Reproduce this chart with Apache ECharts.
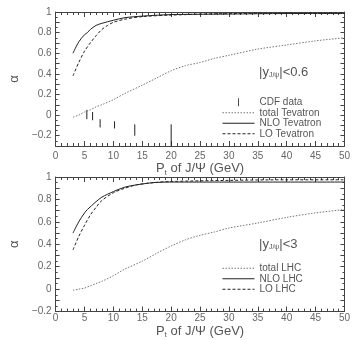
<!DOCTYPE html>
<html><head><meta charset="utf-8">
<script src="https://cdn.jsdelivr.net/npm/echarts@6/dist/echarts.min.js"></script>
<style>html,body{margin:0;padding:0;background:#fff}#c{width:353px;height:340px}</style>
</head><body><div id="c"></div>
<script>
// Top panel (Tevatron, |y|<0.6)
const topTotalX = [3,4,5,6,7,8,10,12,15,17.5,20,22.5,25,27.5,30,35,40,45,50];
const topTotalY = [-0.02,0.0,0.03,0.05,0.08,0.1,0.15,0.21,0.29,0.36,0.43,0.48,0.51,0.55,0.58,0.64,0.68,0.72,0.75];
const topNloX = [3,4,5,5.5,6,7,8,10,12,15,20,30,40,50];
const topNloY = [0.6,0.71,0.78,0.8,0.83,0.87,0.89,0.92,0.945,0.96,0.975,0.98,0.985,0.985];
const topLoX = [3,4,5,6,7,8,9,10,12,15,20,30,50];
const topLoY = [0.38,0.51,0.62,0.7,0.77,0.83,0.87,0.9,0.93,0.955,0.97,0.985,0.99];
const cdfX = [5.4,6.4,7.7,10.2,13.7,20];
const cdfLow = [-0.04,-0.05,-0.12,-0.13,-0.2,-0.3];
const cdfHigh = [0.05,0.03,-0.04,-0.06,-0.09,-0.09];
// Bottom panel (LHC, |y|<3)
const botTotalX = [3,4,5,6,7,8,10,12,15,17.5,20,22.5,25,27.5,30,35,40,45,50];
const botTotalY = [-0.01,0,0.01,0.03,0.05,0.07,0.12,0.18,0.25,0.32,0.385,0.44,0.48,0.51,0.545,0.59,0.64,0.68,0.71];
const botNloX = [3,4,5,5.5,7,8,10,12,14,17,20,30,40,50];
const botNloY = [0.5,0.6,0.68,0.71,0.78,0.82,0.87,0.91,0.93,0.95,0.955,0.955,0.955,0.955];
const botLoX = [3,4,5,6,7,8,10,12,14,17,20,30,40,50];
const botLoY = [0.35,0.47,0.57,0.66,0.73,0.79,0.86,0.9,0.93,0.95,0.96,0.97,0.975,0.975];
const xTicks = [0,5,10,15,20,25,30,35,40,45,50];

const zip = (xs, ys) => xs.map((x, i) => [x, ys[i]]);
const FONT = 'Liberation Sans';
const AX = '#444';
const LAB = '#666';

function xAxis(grid, pos, show, gap, margin) {
  return {
    type: 'value', gridIndex: grid, position: pos, min: 0, max: 50, interval: 5,
    axisLine: { show: true, onZero: false, lineStyle: { color: AX, width: 1 } },
    axisTick: { show: true, inside: true, length: 5, lineStyle: { color: AX } },
    minorTick: { show: true, splitNumber: 5, length: 3, lineStyle: { color: AX } },
    splitLine: { show: false },
    axisLabel: { show: show, color: LAB, fontSize: 10, fontFamily: FONT, margin: margin,
      formatter: v => xTicks.indexOf(v) >= 0 ? String(v) : '' },
    name: show ? 'P{s|t} of J/\u03A8 (GeV)' : '',
    nameLocation: 'middle', nameGap: gap,
    nameTextStyle: { color: '#555', fontSize: 13, fontFamily: FONT,
      rich: { s: { fontSize: 8, verticalAlign: 'bottom', padding: [8, 0, 0, 0], color: '#555', fontFamily: FONT } } }
  };
}
function yAxis(grid, pos, show, min, gap) {
  return {
    type: 'value', gridIndex: grid, position: pos, min: min, max: 1, interval: 0.1,
    axisLine: { show: true, onZero: false, lineStyle: { color: AX, width: 1 } },
    axisTick: { show: true, inside: true, length: 4, lineStyle: { color: AX } },
    minorTick: { show: true, splitNumber: 2, length: 2, lineStyle: { color: AX } },
    splitLine: { show: false },
    axisLabel: { show: show, color: LAB, fontSize: 10, fontFamily: FONT, margin: 4,
      formatter: v => { const t = Math.round(v * 10); if (t % 2 !== 0) return ''; return String(+(t / 10).toFixed(1)).replace('-', '\u2212'); } },
    name: show ? '\u03B1' : '', nameLocation: 'middle', nameRotate: 90, nameGap: gap,
    nameTextStyle: { color: '#555', fontSize: 13, fontFamily: FONT }
  };
}
const lineS = (name, xi, yi, data, type, color) => ({
  name, type: 'line', xAxisIndex: xi, yAxisIndex: yi, data, symbol: 'none', smooth: 0.3,
  lineStyle: { color, width: 1, type }, itemStyle: { color }, z: 3
});
const hideSym = { opacity: 0 };

const chart = echarts.init(document.getElementById('c'), null, { renderer: 'canvas' });
chart.setOption({
  animation: false,
  backgroundColor: '#fff',
  title: [
    { text: '|y{s|J/\u03C8}|<0.6', left: 254, top: 61,
      textStyle: { fontSize: 13, fontWeight: 'normal', color: '#555', fontFamily: FONT,
        rich: { s: { fontSize: 7, verticalAlign: 'bottom', padding: [6, 0, 0, 0], color: '#555', fontFamily: FONT } } } },
    { text: '|y{s|J/\u03C8}|<3', left: 254, top: 233,
      textStyle: { fontSize: 13, fontWeight: 'normal', color: '#555', fontFamily: FONT,
        rich: { s: { fontSize: 7, verticalAlign: 'bottom', padding: [6, 0, 0, 0], color: '#555', fontFamily: FONT } } } }
  ],
  legend: [
    { left: 222, top: 97, orient: 'vertical', itemWidth: 32, itemHeight: 8, itemGap: 0, padding: 0,
      lineStyle: { width: 1 },
      textStyle: { fontSize: 10, color: '#555', fontFamily: FONT, lineHeight: 10.5 },
      data: [
        { name: 'CDF data', icon: 'path://M0,0L1,0L1,10L0,10Z' },
        { name: 'total Tevatron', itemStyle: hideSym },
        { name: 'NLO Tevatron', itemStyle: hideSym },
        { name: 'LO Tevatron', itemStyle: hideSym }
      ] },
    { left: 222, top: 263, orient: 'vertical', itemWidth: 32, itemHeight: 8, itemGap: 0, padding: 0,
      lineStyle: { width: 1 },
      textStyle: { fontSize: 10, color: '#555', fontFamily: FONT, lineHeight: 10.5 },
      data: [
        { name: 'total LHC', itemStyle: hideSym },
        { name: 'NLO LHC', itemStyle: hideSym },
        { name: 'LO LHC', itemStyle: hideSym }
      ] }
  ],
  grid: [
    { left: 39, top: 12, width: 307, height: 134 },
    { left: 35, top: 177, width: 311, height: 137 }
  ],
  xAxis: [xAxis(0, 'bottom', true, 12, 5), xAxis(0, 'top', false, 0, 0), xAxis(1, 'bottom', true, 9, 2), xAxis(1, 'top', false, 0, 0)],
  yAxis: [yAxis(0, 'left', true, -0.3, 26), yAxis(0, 'right', false, -0.3, 0), yAxis(1, 'left', true, -0.2, 23), yAxis(1, 'right', false, -0.2, 0)],
  series: [
    {
      name: 'CDF data', type: 'custom', xAxisIndex: 0, yAxisIndex: 0,
      data: cdfX.map((x, i) => [x, cdfLow[i], cdfHigh[i]]),
      encode: { x: 0, y: [1, 2] },
      itemStyle: { color: '#222' },
      renderItem: (params, api) => {
        const a = api.coord([api.value(0), api.value(1)]);
        const b = api.coord([api.value(0), api.value(2)]);
        return { type: 'line', shape: { x1: a[0], y1: a[1], x2: b[0], y2: b[1] }, style: { stroke: '#222', lineWidth: 1 } };
      }
    },
    lineS('total Tevatron', 0, 0, zip(topTotalX, topTotalY), [1.5, 1.5], '#777'),
    lineS('NLO Tevatron', 0, 0, zip(topNloX, topNloY), 'solid', '#222'),
    lineS('LO Tevatron', 0, 0, zip(topLoX, topLoY), [3, 2], '#222'),
    lineS('total LHC', 2, 2, zip(botTotalX, botTotalY), [1.5, 1.5], '#777'),
    lineS('NLO LHC', 2, 2, zip(botNloX, botNloY), 'solid', '#222'),
    lineS('LO LHC', 2, 2, zip(botLoX, botLoY), [3, 2], '#222')
  ]
});
</script>
</body></html>
